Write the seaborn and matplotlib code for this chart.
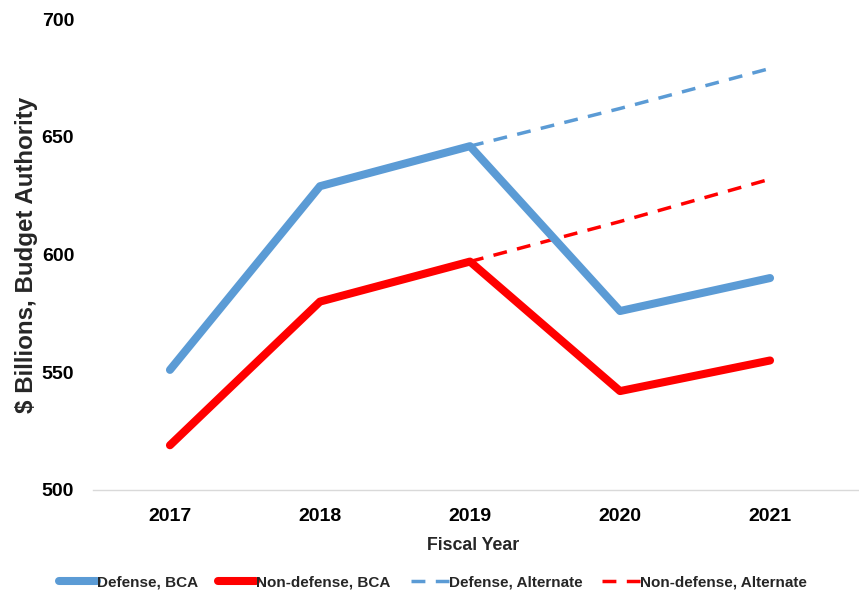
import matplotlib
matplotlib.use("Agg")
import matplotlib.pyplot as plt
import seaborn as sns
import pandas as pd

# Budget authority by fiscal year ($ billions)
years = ["2017", "2018", "2019", "2020", "2021"]
defense_bca = [551, 629, 646, 576, 590]
nondefense_bca = [519, 580, 597, 542, 555]
alt_years = ["2019", "2020", "2021"]
defense_alt = [646, 662, 679]
nondefense_alt = [597, 614, 632]

BLUE = "#5B9BD5"
RED = "#FF0000"

sns.set_theme(style="white")
plt.rcParams["font.family"] = ["Liberation Sans", "DejaVu Sans"]
plt.rcParams["font.weight"] = "bold"

fig = plt.figure(figsize=(8.59, 5.92), dpi=100)
ax = fig.add_axes([93 / 859, 1 - 490 / 592, (859 - 93) / 859, (490 - 19) / 592])

pos = {y: i for i, y in enumerate(years)}
bca = pd.DataFrame({"x": [pos[y] for y in years],
                    "defense": defense_bca, "nondefense": nondefense_bca})
alt = pd.DataFrame({"x": [pos[y] for y in alt_years],
                    "defense": defense_alt, "nondefense": nondefense_alt})

sns.lineplot(data=bca, x="x", y="defense", ax=ax, color=BLUE, linewidth=5.8,
             solid_capstyle="round", label="Defense, BCA", zorder=3)
sns.lineplot(data=bca, x="x", y="nondefense", ax=ax, color=RED, linewidth=5.8,
             solid_capstyle="round", label="Non-defense, BCA", zorder=3)
sns.lineplot(data=alt, x="x", y="defense", ax=ax, color=BLUE, linewidth=2.5,
             dashes=False, linestyle=(0, (4, 3)), label="Defense, Alternate", zorder=2)
sns.lineplot(data=alt, x="x", y="nondefense", ax=ax, color=RED, linewidth=2.5,
             dashes=False, linestyle=(0, (4, 3)), label="Non-defense, Alternate", zorder=2)

ax.set_xlim(-0.513, 4.593)
ax.set_ylim(500, 700)
ax.set_xticks(range(len(years)))
ax.set_xticklabels(years)
ax.set_yticks([500, 550, 600, 650, 700])

for side in ["top", "right", "left"]:
    ax.spines[side].set_visible(False)
ax.spines["bottom"].set_color("#D9D9D9")
ax.spines["bottom"].set_linewidth(1.0)

ax.tick_params(axis="y", length=0, pad=13.5, labelsize=14, labelcolor="black")
ax.tick_params(axis="x", length=0, pad=13, labelsize=14, labelcolor="black")
for lbl in ax.get_xticklabels() + ax.get_yticklabels():
    lbl.set_fontweight("bold")

ax.set_xlabel("Fiscal Year", fontsize=12.8, fontweight="bold")
ax.xaxis.set_label_coords(0.496, -0.1)
ax.set_ylabel("$ Billions, Budget Authority", fontsize=17.4, fontweight="bold")
ax.yaxis.set_label_coords(-0.072, 0.5)

ax.legend(loc="center", bbox_to_anchor=(0.444, -0.197), ncol=4, frameon=False,
          handlelength=2.5, handletextpad=0.0, columnspacing=1.3,
          prop={"size": 11, "weight": "bold"})

fig.savefig("out.png", dpi=100)
